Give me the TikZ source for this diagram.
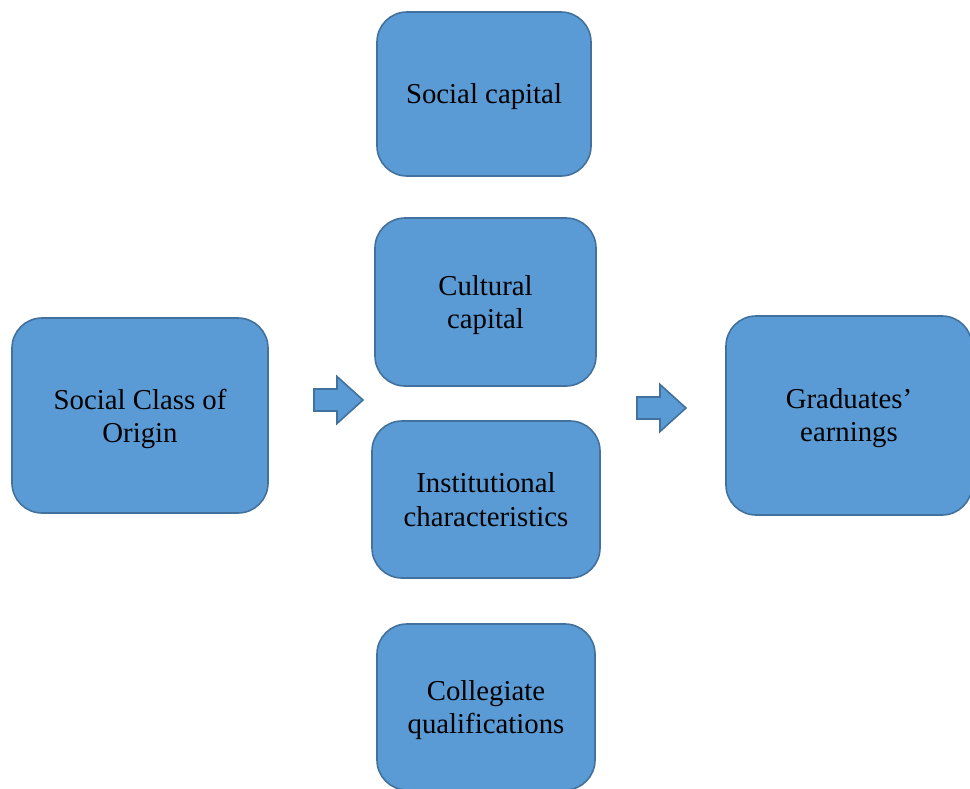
\documentclass[tikz,border=0pt]{standalone}
\usepackage{fontspec}
\setmainfont{Liberation Serif}
\definecolor{boxfill}{HTML}{5B9BD5}
\definecolor{boxline}{HTML}{41719C}
\begin{document}
\begin{tikzpicture}[x=1pt,y=-1pt,
  block/.style={draw=boxline, line width=1.6pt, fill=boxfill, rounded corners=30pt,
    align=center, inner sep=0pt, text depth=0pt, font=\fontsize{28.8}{33}\selectfont},
  blockarrow/.pic={
    \draw[draw=boxline, line width=1.6pt, fill=boxfill, line join=miter]
      (-24,-11) -- (-1,-11) -- (-1,-23.5) -- (25,0) -- (-1,23.5) -- (-1,11) -- (-24,11) -- cycle;
  }]
\useasboundingbox (0,0) rectangle (970,788);

\node[block, minimum width=214pt, minimum height=164pt] (social) at (484,94) {Social capital};
\node[block, minimum width=221pt, minimum height=168pt] (cultural) at (485.5,302) {Cultural\\capital};
\node[block, minimum width=228pt, minimum height=157pt] (inst) at (486,499.5) {Institutional\\characteristics};
\node[block, minimum width=218pt, minimum height=166pt] (coll) at (486,707) {Collegiate\\qualifications};
\node[block, minimum width=256pt, minimum height=195pt] (origin) at (140,415.5) {Social Class of\\Origin};
\node[block, minimum width=246pt, minimum height=199pt] (earn) at (849,415.5) {Graduates’\\earnings};

\pic at (338,400) {blockarrow};
\pic at (661,408) {blockarrow};
\end{tikzpicture}
\end{document}
